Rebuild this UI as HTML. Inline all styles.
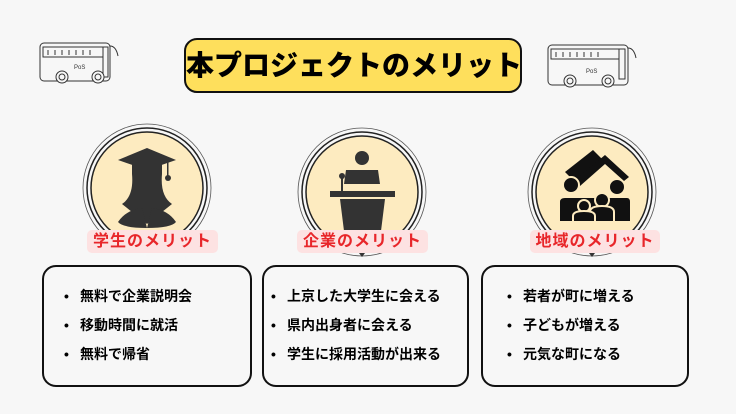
<!DOCTYPE html>
<html><head><meta charset="utf-8"><style>
body{margin:0;width:736px;height:414px;background:#f7f7f7;overflow:hidden;font-family:"Liberation Sans","Noto Sans CJK JP",sans-serif;position:relative}
.title{position:absolute;left:184px;top:38px;width:334px;height:51px;background:#fedf5c;border:2px solid #111;border-radius:13px;font-size:28px;font-weight:900;text-align:center;line-height:51px;white-space:nowrap}
.lab{position:absolute;top:230px;height:23px;background:#fde2e2;border-radius:5px;color:#e8262a;font-weight:bold;font-size:16px;line-height:23px;text-align:center;letter-spacing:1px;white-space:nowrap}
.box{position:absolute;top:265px;height:118px;border:2px solid #111;border-radius:14px;background:#f7f7f7}
.box ul{margin:0;padding:0;list-style:none;position:absolute;top:18px}
.box li{font-size:14px;font-weight:bold;height:29px;line-height:22px;white-space:nowrap}
.box li:before{content:"•";display:inline-block;width:12px;margin-right:4px}
</style></head><body>
<svg width="736" height="414" style="position:absolute;left:0;top:0">
<g fill="none" stroke="#333" stroke-width="1">
<g transform="translate(10,0)"><rect x="30" y="43" width="70" height="38" rx="4"/><rect x="33" y="47" width="60" height="10"/><path d="M38 50v5M45 50v5M52 50v5M59 50v5M66 50v5M73 50v5M80 50v5"/><rect x="93" y="47" width="5" height="30"/><path d="M100 46 q6 0 8 10"/><circle cx="52" cy="77" r="6" fill="#f7f7f7"/><circle cx="52" cy="77" r="3"/><circle cx="88" cy="77" r="6" fill="#f7f7f7"/><circle cx="88" cy="77" r="3"/><text x="64" y="69" font-size="6" fill="#333" stroke="none">PoS</text></g>
<g transform="translate(518,2)"><rect x="30" y="43" width="80" height="40" rx="4"/><rect x="33" y="47" width="68" height="10"/><path d="M38 50v5M45 50v5M52 50v5M59 50v5M66 50v5M73 50v5M80 50v5"/><rect x="101" y="47" width="6" height="30"/><path d="M110 46 q6 0 8 10"/><circle cx="52" cy="79" r="6" fill="#f7f7f7"/><circle cx="52" cy="79" r="3"/><circle cx="90" cy="79" r="6" fill="#f7f7f7"/><circle cx="90" cy="79" r="3"/><text x="68" y="71" font-size="6" fill="#333" stroke="none">PoS</text></g>
</g>
<g>
<circle cx="147" cy="188" r="64" fill="none" stroke="#555" stroke-width="0.8"/><circle cx="147" cy="188" r="60" fill="none" stroke="#222" stroke-width="1.5"/><circle cx="147" cy="188" r="56" fill="#fdebc0" stroke="#222" stroke-width="1.5"/>
<circle cx="362" cy="192" r="64" fill="none" stroke="#555" stroke-width="0.8"/><circle cx="362" cy="192" r="60" fill="none" stroke="#222" stroke-width="1.5"/><circle cx="362" cy="192" r="56" fill="#fdebc0" stroke="#222" stroke-width="1.5"/>
<circle cx="592" cy="192" r="64" fill="none" stroke="#555" stroke-width="0.8"/><circle cx="592" cy="192" r="60" fill="none" stroke="#222" stroke-width="1.5"/><circle cx="592" cy="192" r="56" fill="#fdebc0" stroke="#222" stroke-width="1.5"/>
</g>
<g fill="#333">
<path d="M118 160 L147 148 L176 160 L147 170Z"/><path d="M132 164 h30 v10 q-2 22 10 30 l-25 20 l-25 -20 q12 -8 10 -30z"/><path d="M118 222 q8 -12 24 -14 l5 20 l5 -20 q16 2 24 14 q-5 6 -29 6 q-24 0 -29 -6z"/><rect x="167" y="162" width="1.5" height="14"/><circle cx="168" cy="178" r="3"/>
<circle cx="362" cy="158" r="7"/><path d="M346 170 h32 l2 14 h-36z"/><rect x="330" y="191" width="65" height="6"/><path d="M340 199 h45 l-4 32 h-37z"/><rect x="341" y="178" width="2" height="13"/><circle cx="342" cy="176" r="3"/>
<path d="M565 172 l28 -22 l12 12 l-28 22z" fill="#111"/><path d="M575 180 l30 -25 l24 22 l-5 4 l-19 -17 l-25 22z" fill="#111"/>
<g fill="#111" stroke="#fdebc0" stroke-width="2"><circle cx="571" cy="185" r="8"/><circle cx="617" cy="187" r="8"/><path d="M559 222 v-20 q0 -5 6 -5 h62 q4 0 4 5 v20z"/><circle cx="602" cy="200" r="7"/><circle cx="584" cy="206" r="6"/><path d="M590 222 v-10 q0 -6 12 -6 q12 0 12 6 v10z"/><path d="M573 222 v-6 q0 -5 11 -5 q11 0 11 5 v6z"/></g>
<path d="M359 253 h6 l-3 4z M589 253 h6 l-3 4z"/>
</g>
</svg>
<div class="title">本プロジェクトのメリット</div>
<div class="lab" style="left:87px;width:131px">学生のメリット</div>
<div class="lab" style="left:297px;width:131px">企業のメリット</div>
<div class="lab" style="left:530px;width:130px">地域のメリット</div>
<div class="box" style="left:42px;width:206px"><ul style="left:20px"><li>無料で企業説明会</li><li>移動時間に就活</li><li>無料で帰省</li></ul></div>
<div class="box" style="left:262px;width:203px"><ul style="left:7px"><li>上京した大学生に会える</li><li>県内出身者に会える</li><li>学生に採用活動が出来る</li></ul></div>
<div class="box" style="left:481px;width:204px"><ul style="left:24px"><li>若者が町に増える</li><li>子どもが増える</li><li>元気な町になる</li></ul></div>
</body></html>
